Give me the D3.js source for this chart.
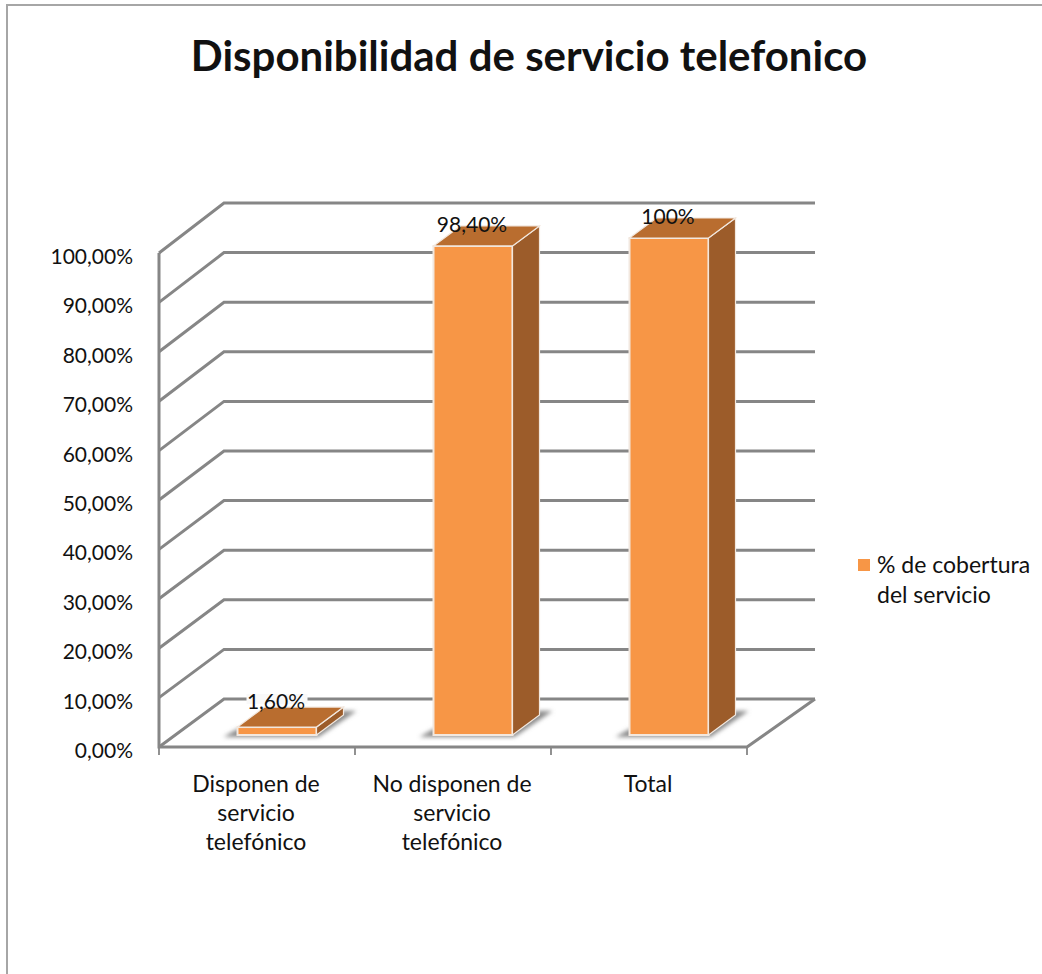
<!DOCTYPE html>
<html>
<head>
<meta charset="utf-8">
<script src="https://cdn.jsdelivr.net/npm/d3@7"></script>
<style>
html, body { margin: 0; padding: 0; background: #fff; }
svg { display: block; }
text { font-family: Lato, "Open Sans", sans-serif; fill: #111; }
</style>
</head>
<body>
<div id="chart"></div>
<script>
var titleText = "Disponibilidad de servicio telefonico";
var categories = ["Disponen de servicio telefónico", "No disponen de servicio telefónico", "Total"];
var categoryLines = [["Disponen de", "servicio", "telefónico"], ["No disponen de", "servicio", "telefónico"], ["Total"]];
var coverage = [1.6, 98.4, 100];
var valueLabels = ["1,60%", "98,40%", "100%"];
var yTicks = [0, 10, 20, 30, 40, 50, 60, 70, 80, 90, 100];
var yTickLabels = ["0,00%", "10,00%", "20,00%", "30,00%", "40,00%", "50,00%", "60,00%", "70,00%", "80,00%", "90,00%", "100,00%"];
var legendLines = ["% de cobertura", "del servicio"];

var width = 1042, height = 974;

// depth offset of the bars
var barDepthX = 27, barDepthY = -20;

var svg = d3.select("#chart").append("svg")
	.attr("width", width)
	.attr("height", height);

var defs = svg.append("defs");
defs.append("filter").attr("id", "soft")
	.append("feGaussianBlur").attr("stdDeviation", 0.6);
defs.append("filter").attr("id", "shadow")
	.attr("x", "-30%").attr("y", "-50%").attr("width", "160%").attr("height", "200%")
	.append("feGaussianBlur").attr("stdDeviation", 2.2);

// outer frame, only top and left show
svg.append("path")
	.attr("d", "M7,974V5H1042")
	.attr("fill", "none")
	.attr("stroke", "#a6a6a6")
	.attr("stroke-width", 2);

svg.append("text")
	.attr("x", 529)
	.attr("y", 71)
	.attr("text-anchor", "middle")
	.attr("font-size", 42)
	.attr("font-weight", 700)
	.attr("fill", "#000")
	.text(titleText);

var x = d3.scaleBand().domain(categories).range([159, 747]);
var y = d3.scaleLinear().domain([0, 100]).range([747, 253]);
var yBack = d3.scaleLinear().domain([0, 100]).range([699, 203]);
// bars stand a bit in front of the back wall
var yBar = d3.scaleLinear().domain([0, 100]).range([735, 238]);
var backLeft = 224, backRight = 815;

var grid = svg.append("g")
	.attr("fill", "none")
	.attr("stroke", "#868686")
	.attr("stroke-width", 3)
	.attr("filter", "url(#soft)");

yTicks.forEach(function(t) {
	grid.append("path")
		.attr("d", "M" + x.range()[0] + "," + y(t) + "L" + backLeft + "," + yBack(t) + "H" + backRight);
});

// left axis, floor edges and tick marks
grid.append("path").attr("d", "M" + x.range()[0] + "," + y(100) + "V" + y(0) + "H" + x.range()[1] + "L" + backRight + "," + yBack(0));
[x.range()[0]].concat(categories.map(function(c) { return x(c) + x.bandwidth(); })).forEach(function(px) {
	grid.append("path").attr("d", "M" + px + "," + y(0) + "v8").attr("stroke-width", 1.8);
});

svg.append("g").selectAll("text")
	.data(yTicks)
	.enter().append("text")
	.attr("x", 133)
	.attr("y", function(d) { return y(d) + 11; })
	.attr("text-anchor", "end")
	.attr("font-size", 21)
	.text(function(d, i) { return yTickLabels[i]; });

var barWidth = 79;
function barLeft(i) { return x(categories[i]) + 78.5; }

// white patch the first label leaves on the wall line
svg.append("rect")
	.attr("x", barLeft(0) + 9)
	.attr("y", yBar(coverage[0]) - 33)
	.attr("width", 61)
	.attr("height", 10)
	.attr("fill", "#f9f9f9");

var bars = svg.append("g").selectAll("g")
	.data(coverage)
	.enter().append("g");

// floor shadow
bars.append("path")
	.attr("d", function(d, i) {
		var l = barLeft(i), r = l + barWidth, b = yBar(0);
		return "M" + (l - 14) + "," + (b + 2) + "H" + (r + 2) + "L" + (r + 40) + "," + (b - 24) + "H" + (r + 26) + "L" + r + "," + (b - 6) + "H" + l + "Z";
	})
	.attr("fill", "#8a8a8a")
	.attr("filter", "url(#shadow)");

// front face
bars.append("rect")
	.attr("x", function(d, i) { return barLeft(i); })
	.attr("y", function(d) { return yBar(d); })
	.attr("width", barWidth)
	.attr("height", function(d) { return yBar(0) - yBar(d); })
	.attr("fill", "#f79646")
	.attr("stroke", "#f2e8df")
	.attr("stroke-width", 2);

// side face
bars.append("path")
	.attr("d", function(d, i) {
		var r = barLeft(i) + barWidth;
		return "M" + r + "," + yBar(d) + "l" + barDepthX + "," + barDepthY + "V" + (yBar(0) + barDepthY) + "L" + r + "," + yBar(0) + "Z";
	})
	.attr("fill", "#9c5c2a")
	.attr("stroke", "#f2e8df")
	.attr("stroke-width", 1.2);

// top face
bars.append("path")
	.attr("d", function(d, i) {
		var l = barLeft(i), t = yBar(d);
		return "M" + l + "," + t + "l" + barDepthX + "," + barDepthY + "h" + barWidth + "l" + (-barDepthX) + "," + (-barDepthY) + "Z";
	})
	.attr("fill", "#b96d2f")
	.attr("stroke", "#f2e8df")
	.attr("stroke-width", 1.2);

bars.append("text")
	.attr("x", function(d, i) { return barLeft(i) + barWidth / 2 - 1; })
	.attr("y", function(d) { return yBar(d) - (d < 10 ? 18 : 14); })
	.attr("text-anchor", "middle")
	.attr("font-size", 21)
	.text(function(d, i) { return valueLabels[i]; });

// category labels
var catGroup = svg.append("g").selectAll("g")
	.data(categories)
	.enter().append("g");

catGroup.selectAll("text")
	.data(function(d, i) { return categoryLines[i].map(function(s) { return { s: s, c: d }; }); })
	.enter().append("text")
	.attr("x", function(d) { return x(d.c) + x.bandwidth() / 2 - 1; })
	.attr("y", function(d, i) { return 792 + i * 29; })
	.attr("text-anchor", "middle")
	.attr("font-size", 23)
	.text(function(d) { return d.s; });

// legend
svg.append("rect")
	.attr("x", 858)
	.attr("y", 559)
	.attr("width", 12)
	.attr("height", 12)
	.attr("fill", "#f79646");

svg.append("g").selectAll("text")
	.data(legendLines)
	.enter().append("text")
	.attr("x", 877)
	.attr("y", function(d, i) { return 573 + i * 30; })
	.attr("font-size", 23)
	.text(function(d) { return d; });
</script>
</body>
</html>
